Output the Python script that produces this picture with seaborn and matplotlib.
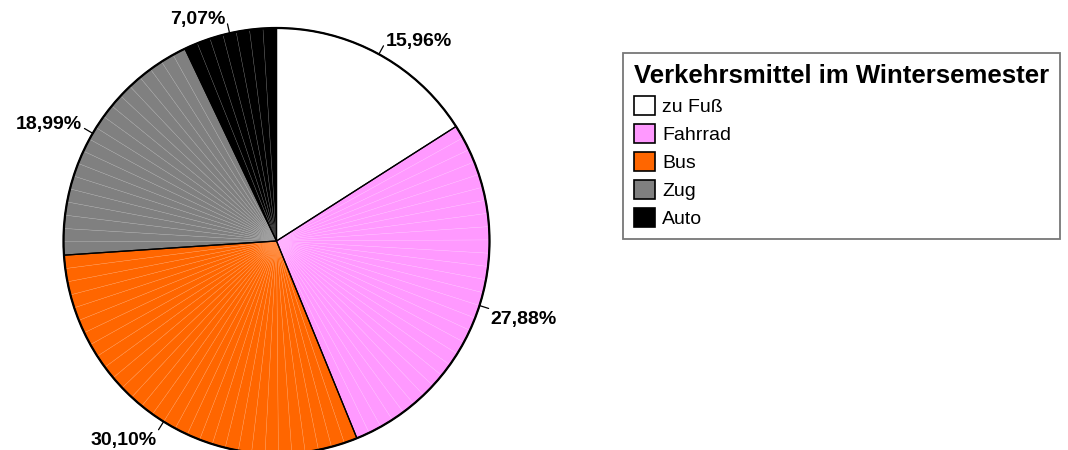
import numpy as np
import matplotlib
matplotlib.use("Agg")
import matplotlib.pyplot as plt
from matplotlib.patches import Patch, Circle
from matplotlib.colors import to_rgb
import seaborn as sns

# data
labels = ["zu Fuß", "Fahrrad", "Bus", "Zug", "Auto"]
shares = [15.96, 27.88, 30.10, 18.99, 7.07]
pct_text = ["15,96%", "27,88%", "30,10%", "18,99%", "7,07%"]
colors = ["#FFFFFF", "#FF99FF", "#FF6600", "#808080", "#000000"]
legend_title = "Verkehrsmittel im Wintersemester"

sns.set_theme(style="white")
plt.rcParams["font.family"] = ["Liberation Sans", "DejaVu Sans"]
plt.rcParams["text.color"] = "black"

W, H = 1068, 450
fig = plt.figure(figsize=(W / 100, H / 100), dpi=100)

# pie placement in pixels
cx, cy, rad = 276.5, 241, 213
ax_w = 600
ax = fig.add_axes([0, 0, ax_w / W, 1])


def lighten(c, f):
    r, g, b = to_rgb(c)
    return (r + (1 - r) * f, g + (1 - g) * f, b + (1 - b) * f)


# old-style faceted rendering: every slice is made of thin sub-wedges
sub_vals, sub_cols, sub_edges = [], [], []
for v, c in zip(shares, colors):
    n = max(1, int(round(v)))
    for _ in range(n):
        sub_vals.append(v / n)
        sub_cols.append(c)
        sub_edges.append(lighten(c, 0.3))

wedges, _ = ax.pie(sub_vals, colors=sub_cols, startangle=90, counterclock=False,
                   radius=1.0, wedgeprops=dict(linewidth=0.3))
for w, ec in zip(wedges, sub_edges):
    w.set_edgecolor(ec)

# boundaries of the main slices
ax.pie(shares, colors=["none"] * len(shares), startangle=90, counterclock=False,
       radius=1.0, wedgeprops=dict(linewidth=0.9, edgecolor="black", facecolor="none"))
ax.add_patch(Circle((0, 0), 1.0, fill=False, lw=1.6, ec="black", zorder=5))

# percentage labels with short leader lines
cum = np.cumsum([0] + shares)
tot = cum[-1]
for i, t in enumerate(pct_text):
    mid = 90 - 360 * (cum[i] + shares[i] / 2) / tot
    a = np.deg2rad(mid)
    x0, y0 = np.cos(a), np.sin(a)
    x1, y1 = 1.045 * x0, 1.045 * y0
    ax.plot([x0, x1], [y0, y1], color="black", lw=0.9, zorder=6, clip_on=False)
    ha = "left" if x0 > 0 else "right"
    va = "bottom" if y0 > 0 else "top"
    ax.text(x1 + (0.01 if x0 > 0 else -0.01), y1 - (0.02 if y0 > 0 else 0.01), t,
            ha=ha, va=va, fontsize=14, fontweight="bold", color="black", zorder=7)

ax.set_xlim((0 - cx) / rad, (ax_w - cx) / rad)
ax.set_ylim(-(H - cy) / rad, cy / rad)
ax.set_aspect("auto")
ax.axis("off")

handles = [Patch(facecolor=c, edgecolor="black", linewidth=1.2) for c in colors]
leg = fig.legend(handles, labels, loc="upper left",
                 bbox_to_anchor=(623 / W, 1 - 53 / H), borderaxespad=0,
                 title=legend_title,
                 title_fontproperties={"weight": "bold", "size": 18.5},
                 fontsize=14, handlelength=1.1, handleheight=1.1,
                 handletextpad=0.35, labelspacing=0.42, borderpad=0.55,
                 frameon=True, fancybox=False, alignment="left")
leg.get_frame().set_edgecolor("#555555")
leg.get_frame().set_linewidth(1.3)
leg.get_title().set_color("black")
for txt in leg.get_texts():
    txt.set_color("black")

fig.savefig("out.png", dpi=100, facecolor="white")
